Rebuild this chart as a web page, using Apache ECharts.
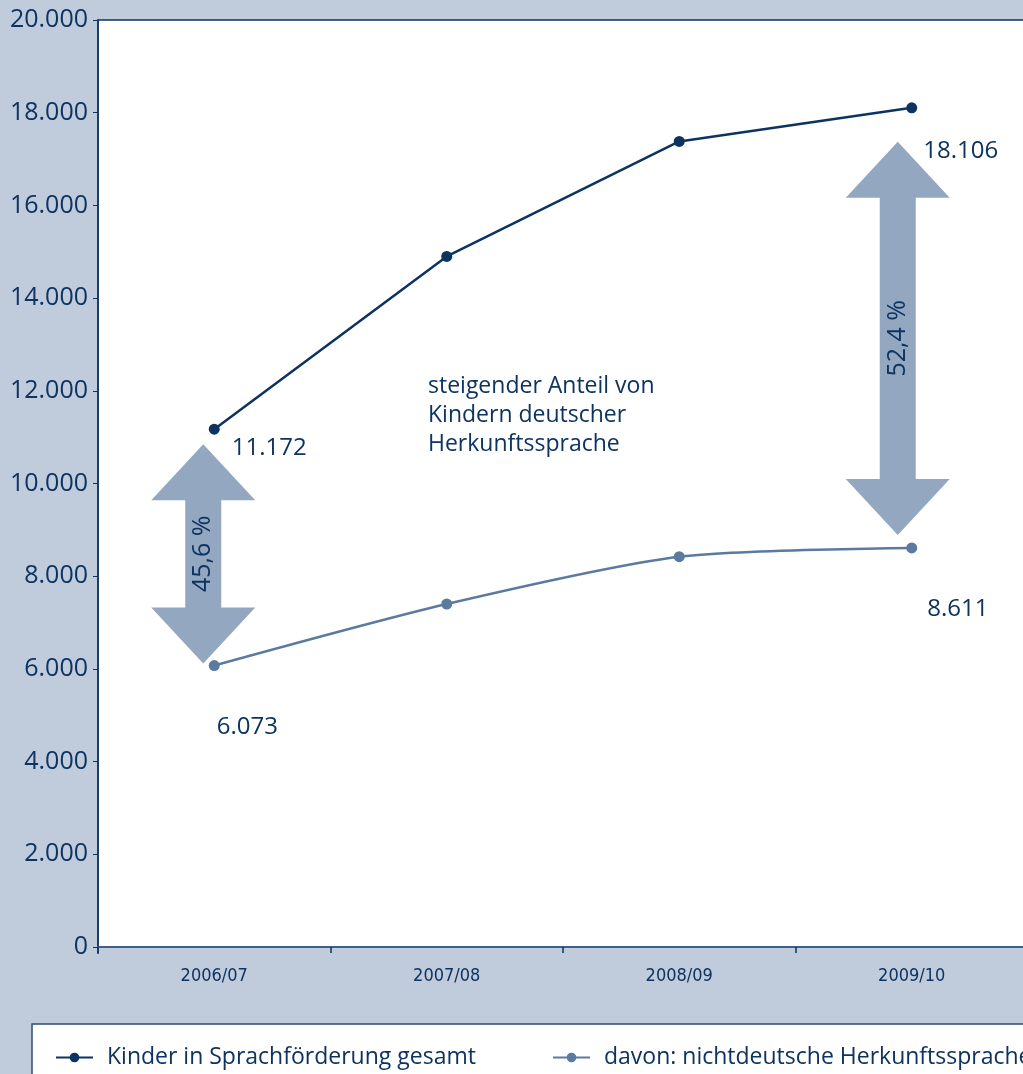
<!DOCTYPE html>
<html>
<head>
<meta charset="utf-8">
<script src="https://cdn.jsdelivr.net/npm/echarts@6/dist/echarts.min.js"></script>
<style>
  html, body { margin: 0; padding: 0; background: #c0cbdc; }
  #chart { width: 1023px; height: 1074px; }
</style>
</head>
<body>
<div id="chart"></div>
<script>
const years = ["2006/07", "2007/08", "2008/09", "2009/10"]
const gesamt = [11172, 14900, 17380, 18106]
const nichtdeutsch = [6073, 7400, 8420, 8611]
const yTicks = [0, 2000, 4000, 6000, 8000, 10000, 12000, 14000, 16000, 18000, 20000]
const anteile = ["45,6 %", "52,4 %"]
const seriesNames = ["Kinder in Sprachförderung gesamt", "davon: nichtdeutsche Herkunftssprache"]

const navy = "#0d3360"
const slate = "#5b7aa0"
const arrowFill = "#93a7c1"
const font = "Open Sans"

const fmt = (v) => String(v).replace(/\B(?=(\d{3})+(?!\d))/g, ".")

const chart = echarts.init(document.getElementById("chart"))

// label offsets per point (relative to the symbol)
const offsGesamt = [[7, 19], null, null, [1, 43]]
const offsNicht = [[-8, 62], null, null, [5, 61]]

const mkData = (vals, offs) => vals.map((v, i) => ({
    value: v,
    label: offs[i] ? { show: true, position: "right", offset: offs[i] } : { show: false }
}))

const legendBase = {
    top: 1041,
    itemWidth: 37,
    itemHeight: 12,
    z: 10,
    textStyle: {
        fontFamily: font,
        fontSize: 23,
        color: navy,
        padding: [0, 0, 0, 9]
    }
}

const option = {
    backgroundColor: "#c0cbdc",
    animation: false,
    grid: {
        left: 98,
        top: 20,
        width: 930,
        height: 927,
        show: true,
        backgroundColor: "#ffffff",
        borderColor: navy,
        borderWidth: 1.5,
        outerBoundsMode: "none",
        containLabel: false
    },
    legend: [
        Object.assign({}, legendBase, { left: 50, data: [seriesNames[0]] }),
        Object.assign({}, legendBase, { left: 547, data: [seriesNames[1]] })
    ],
    xAxis: {
        type: "category",
        data: years,
        boundaryGap: true,
        axisLine: { lineStyle: { color: "#3f5f86", width: 2 } },
        axisTick: { show: true, length: 6, lineStyle: { color: navy, width: 1.5 } },
        axisLabel: {
            margin: 20,
            fontFamily: "'DejaVu Sans Condensed', 'Open Sans'",
            fontSize: 18,
            color: navy
        }
    },
    yAxis: {
        type: "value",
        min: 0,
        max: 20000,
        interval: 2000,
        splitLine: { show: false },
        axisLine: { show: true, lineStyle: { color: navy, width: 1.5 } },
        axisTick: { show: true, length: 5, lineStyle: { color: navy } },
        axisLabel: {
            margin: 10,
            fontFamily: font,
            fontSize: 25,
            color: navy,
            formatter: (v) => yTicks.includes(v) ? fmt(v) : ""
        }
    },
    series: [
        {
            name: seriesNames[0],
            type: "line",
            data: mkData(gesamt, offsGesamt),
            symbol: "circle",
            symbolSize: 11,
            z: 5,
            itemStyle: { color: navy },
            lineStyle: { color: navy, width: 2.5 },
            label: {
                fontFamily: font,
                fontSize: 24,
                color: navy,
                formatter: (p) => fmt(p.value)
            }
        },
        {
            name: seriesNames[1],
            type: "line",
            data: mkData(nichtdeutsch, offsNicht),
            symbol: "circle",
            symbolSize: 11,
            smooth: 0.25,
            z: 5,
            itemStyle: { color: slate },
            lineStyle: { color: slate, width: 2.5 },
            label: {
                fontFamily: font,
                fontSize: 24,
                color: navy,
                formatter: (p) => fmt(p.value)
            }
        }
    ]
}

chart.setOption(option)

// double arrows between the two series, plus the note text and legend frame
function arrow(cx, ty, by) {
    const hh = 52, sh = 18, hl = 56
    return [
        [cx, ty], [cx + hh, ty + hl], [cx + sh, ty + hl],
        [cx + sh, by - hl], [cx + hh, by - hl], [cx, by],
        [cx - hh, by - hl], [cx - sh, by - hl], [cx - sh, ty + hl],
        [cx - hh, ty + hl]
    ]
}

const graphics = []
const arrowSpecs = [
    { i: 0, dx: -11, dTop: 15, dBot: -2 },
    { i: 3, dx: -14, dTop: 34, dBot: -13 }
]
arrowSpecs.forEach((a, k) => {
    const top = chart.convertToPixel({ gridIndex: 0 }, [a.i, gesamt[a.i]])
    const bot = chart.convertToPixel({ gridIndex: 0 }, [a.i, nichtdeutsch[a.i]])
    const cx = top[0] + a.dx
    const ty = top[1] + a.dTop
    const by = bot[1] + a.dBot
    graphics.push({
        type: "polygon",
        z: 3,
        shape: { points: arrow(cx, ty, by) },
        style: { fill: arrowFill }
    })
    graphics.push({
        type: "text",
        z: 4,
        x: cx,
        y: (ty + by) / 2,
        rotation: Math.PI / 2,
        style: {
            text: anteile[k],
            fontFamily: font,
            fontSize: 25,
            fill: navy,
            align: "center",
            verticalAlign: "middle"
        }
    })
})

graphics.push({
    type: "text",
    z: 4,
    left: 428,
    top: 372,
    style: {
        text: "steigender Anteil von\nKindern deutscher\nHerkunftssprache",
        fontFamily: font,
        fontSize: 23,
        lineHeight: 29,
        fill: navy
    }
})

// y axis line runs a little below zero
const origin = chart.convertToPixel({ gridIndex: 0 }, [0, 0])
graphics.push({
    type: "line",
    z: 4,
    shape: { x1: 98, y1: origin[1], x2: 98, y2: origin[1] + 7 },
    style: { stroke: navy, lineWidth: 1.5 }
})

graphics.push({
    type: "rect",
    z: 0,
    shape: { x: 32, y: 1024, width: 1100, height: 100 },
    style: { fill: "#ffffff", stroke: "#2b4c74", lineWidth: 1.5 }
})

chart.setOption({ graphic: graphics })
</script>
</body>
</html>
